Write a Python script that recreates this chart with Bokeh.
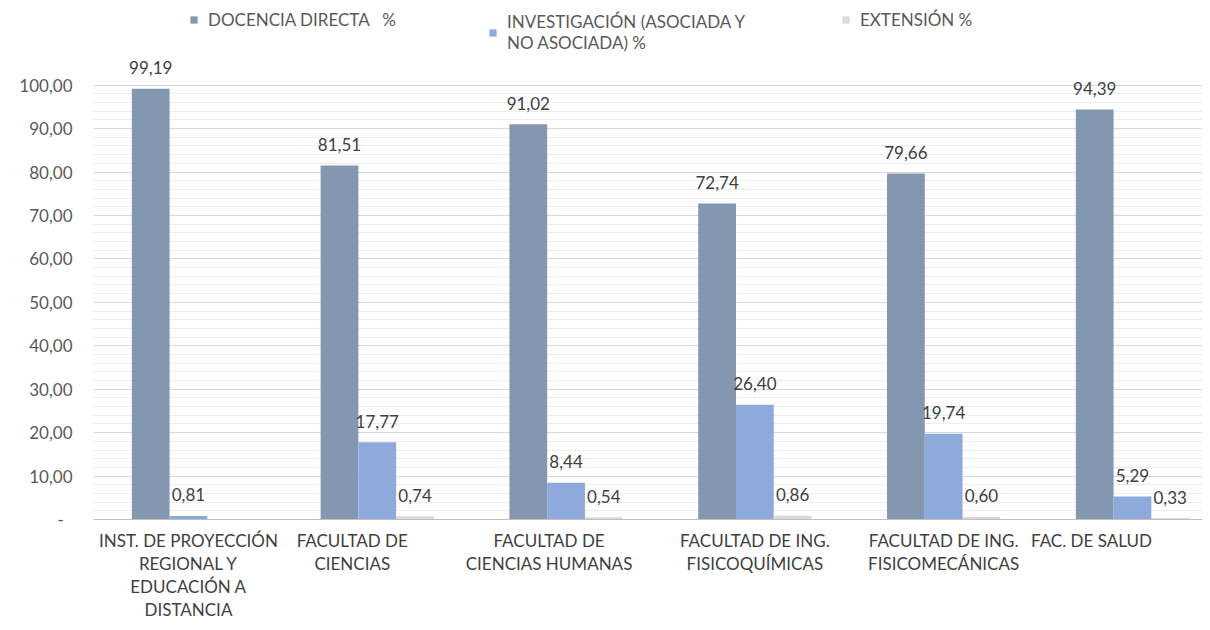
from bokeh.plotting import figure
from bokeh.models import (ColumnDataSource, Range1d, FixedTicker, CustomJSTickFormatter,
                          Legend, LegendItem)
from bokeh.transform import dodge
from bokeh.core.properties import value
from bokeh.embed import file_html
from bokeh.resources import INLINE

categories = [
    "INST. DE PROYECCIÓN\nREGIONAL Y\nEDUCACIÓN A\nDISTANCIA",
    "FACULTAD DE\nCIENCIAS",
    "FACULTAD DE\nCIENCIAS HUMANAS",
    "FACULTAD DE ING.\nFISICOQUÍMICAS",
    "FACULTAD DE ING.\nFISICOMECÁNICAS",
    "FAC. DE SALUD",
]
series_names = ["DOCENCIA DIRECTA   %", "INVESTIGACIÓN (ASOCIADA Y\nNO ASOCIADA) %", "EXTENSIÓN %"]
docencia = [99.19, 81.51, 91.02, 72.74, 79.66, 94.39]
investigacion = [0.81, 17.77, 8.44, 26.40, 19.74, 5.29]
extension = [None, 0.74, 0.54, 0.86, 0.60, 0.33]
y_ticks = [0, 10, 20, 30, 40, 50, 60, 70, 80, 90, 100]

# styling: horizontal nudge (px) of each category label, as in the original layout
label_nudge = [0, -25, -17, 0, 0, -41]

colors = ["#8497B0", "#8EA9DB", "#D9D9D9"]
FONT = "Lato"

X0, X1 = -0.503, 5.371
FRAME_W = 1202 - 93
px_per_unit = FRAME_W / (X1 - X0)

idx = list(range(len(categories)))
nan = float("nan")
ext_vals = [nan if v is None else v for v in extension]

def fmt(v):
    return "" if v is None else f"{v:.2f}".replace(".", ",")

src = ColumnDataSource(dict(
    x=idx, doc=docencia, inv=investigacion, ext=ext_vals,
    doc_t=[fmt(v) for v in docencia],
    inv_t=[fmt(v) for v in investigacion],
    ext_t=[fmt(v) for v in extension],
))

p = figure(width=1202, height=622, output_backend="svg", toolbar_location=None,
           x_range=Range1d(X0, X1), y_range=Range1d(0, 119.5),
           min_border_left=93, min_border_right=0, min_border_top=0, min_border_bottom=102)
p.outline_line_color = None
p.background_fill_color = "white"
p.border_fill_color = "white"

bw = 0.2
offs = [-0.2, 0.0, 0.2]
keys = ["doc", "inv", "ext"]
rends = []
for k, o, c in zip(keys, offs, colors):
    r = p.vbar(x=dodge("x", o, range=p.x_range), top=k, width=bw, source=src,
               fill_color=c, line_color=None)
    rends.append(r)
    p.text(x=dodge("x", o, range=p.x_range), y=k, text=k + "_t", source=src,
           text_align="center", text_baseline="middle", y_offset=-21,
           text_font=value(FONT), text_font_size="17px", text_color="#404040")

# grid
p.xgrid.visible = False
p.ygrid.ticker = FixedTicker(ticks=y_ticks, minor_ticks=list(range(0, 101, 2)))
p.ygrid.grid_line_color = "#D9D9D9"
p.ygrid.minor_grid_line_color = "#EDEDED"

# y axis
p.yaxis.ticker = FixedTicker(ticks=y_ticks)
p.yaxis.formatter = CustomJSTickFormatter(code="""
    if (tick == 0) { return "-\u00a0\u00a0"; }
    return tick.toFixed(2).replace(".", ",");
""")
p.yaxis.axis_line_color = None
p.yaxis.major_tick_line_color = None
p.yaxis.minor_tick_line_color = None
p.yaxis.major_tick_out = 0
p.yaxis.major_label_standoff = 21
p.yaxis.major_label_text_font = FONT
p.yaxis.major_label_text_font_size = "17px"
p.yaxis.major_label_text_color = "#595959"

# x axis: category labels at group centres, nudged like the original
tick_pos = [i + dx / px_per_unit for i, dx in zip(idx, label_nudge)]
p.xaxis.ticker = FixedTicker(ticks=tick_pos)
p.xaxis.major_label_overrides = {t: c for t, c in zip(tick_pos, categories)}
p.xaxis.axis_line_color = "#BFBFBF"
p.xaxis.major_tick_line_color = None
p.xaxis.minor_tick_line_color = None
p.xaxis.major_tick_out = 0
p.xaxis.major_tick_in = 0
p.xaxis.major_label_standoff = 10
p.xaxis.major_label_text_font = FONT
p.xaxis.major_label_text_font_size = "17px"
p.xaxis.major_label_text_color = "#404040"
p.xaxis.major_label_text_line_height = 1.1

# legends
leg_x = [96, 395, 748]
leg_y = [489, 466, 489]
for name, r, lx, ly in zip(series_names, rends, leg_x, leg_y):
    lg = Legend(items=[LegendItem(label=name, renderers=[r])], location=(lx, ly),
                orientation="horizontal", border_line_color=None, background_fill_alpha=0,
                padding=0, margin=0, glyph_width=9, glyph_height=9, label_standoff=10,
                label_text_font=FONT, label_text_font_size="17px", label_text_color="#595959")
    p.add_layout(lg)

open("out.html", "w").write(file_html(p, INLINE))
